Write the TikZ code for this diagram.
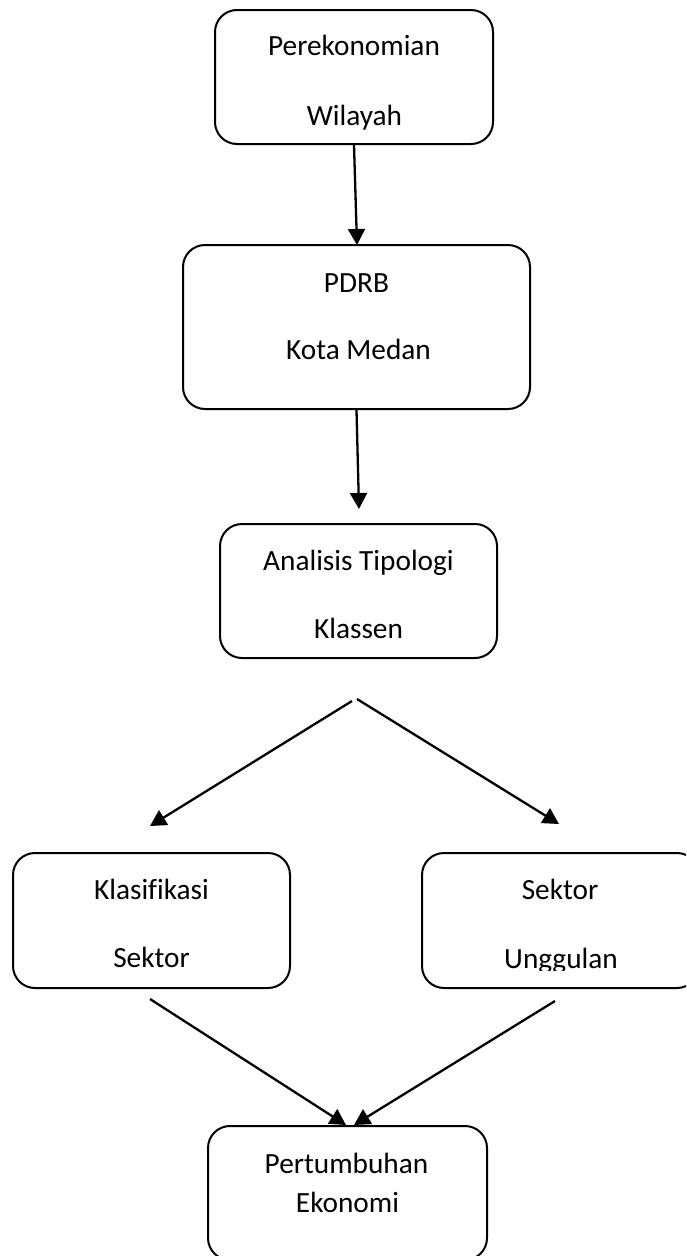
\documentclass[tikz,border=0pt]{standalone}
\usepackage{fontspec}
\setmainfont{Carlito}[Ligatures={NoCommon}]
\usetikzlibrary{arrows.meta}
\begin{document}
\begin{tikzpicture}[x=1pt,y=-1pt,
  box/.style={draw=black, line width=2pt, rounded corners=22pt, inner sep=0pt, fill=white},
  txt/.style={anchor=base, inner sep=0pt, font=\fontsize{29.3}{34}\selectfont},
  arr/.style={line width=2.3pt, -{Triangle[length=16pt,width=17pt]}}]
\useasboundingbox (0,0) rectangle (686,1256);
\clip (0,0) rectangle (686,1256);
% boxes
\node[box, minimum width=278pt, minimum height=134pt] (b1) at (354,77) {};
\node[box, minimum width=347pt, minimum height=164pt] (b2) at (356.5,327) {};
\node[box, minimum width=277pt, minimum height=134pt] (b3) at (358.5,591) {};
\node[box, minimum width=277pt, minimum height=135pt] (b4) at (151.5,920.5) {};
\node[box, minimum width=277pt, minimum height=135pt] (b5) at (560.5,920.5) {};
\node[box, minimum width=279pt, minimum height=134pt] (b6) at (347.5,1193) {};
% texts
\node[txt] (t1a) at (354,55) {Perekonomian};
\node[txt] (t1b) at (354.5,125) {Wilayah};
\node[txt] (t2a) at (356.5,292) {PDRB};
\node[txt] (t2b) at (358.5,359) {Kota Medan};
\node[txt] (t3a) at (358.5,570) {Analisis Tipologi};
\node[txt] (t3b) at (358.5,638) {Klassen};
\node[txt] (t4a) at (151.5,899) {Klasifikasi};
\node[txt] (t4b) at (151.5,967) {Sektor};
\node[txt] (t5a) at (560,899) {Sektor};
\begin{scope}
\clip (424,853) rectangle (697,970);
\node[txt] (t5b) at (561,968) {Unggulan};
\end{scope}
\node[txt] (t6a) at (346.5,1173) {Pertumbuhan};
\node[txt] (t6b) at (347.5,1212) {Ekonomi};
% free connector ends
\coordinate (a1e) at (357,245);
\coordinate (a2e) at (359,509);
\coordinate (dl0) at (352,701);
\coordinate (dr0) at (357,699);
\coordinate (dl1) at (150,826);
\coordinate (dr1) at (559,824);
\coordinate (cl0) at (150,999);
\coordinate (cr0) at (555,1001);
\coordinate (cl1) at (346,1125);
\coordinate (cr1) at (354,1125);
% connectors
\draw[arr] (b1.south) -- (a1e);
\draw[arr] (b2.south) -- (a2e);
\draw[arr] (dl0) -- (dl1);
\draw[arr] (dr0) -- (dr1);
\draw[arr] (cl0) -- (cl1);
\draw[arr] (cr0) -- (cr1);
\end{tikzpicture}
\end{document}
